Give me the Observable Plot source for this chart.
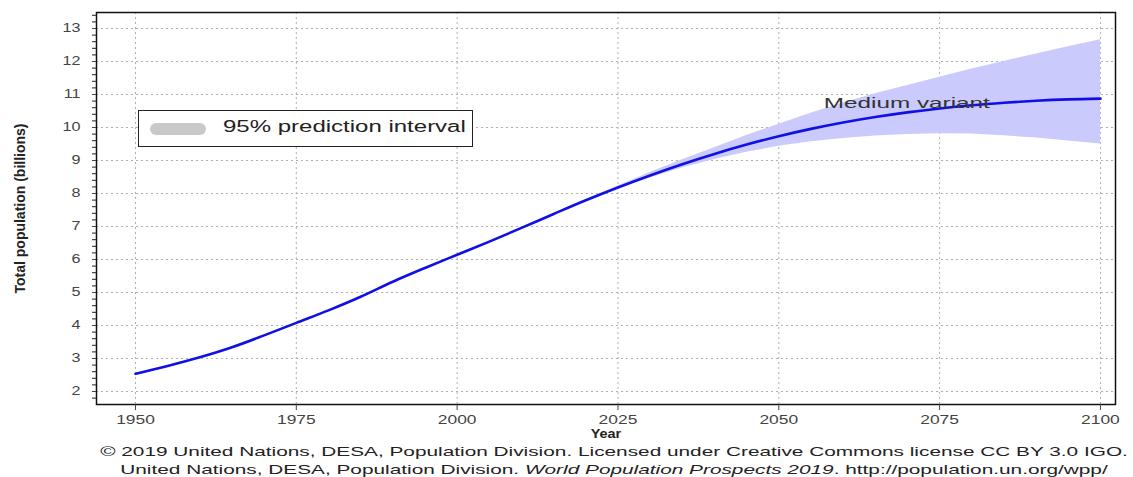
<!DOCTYPE html>
<html><head><meta charset="utf-8">
<script src="https://cdn.jsdelivr.net/npm/d3@7"></script>
<script src="https://cdn.jsdelivr.net/npm/@observablehq/plot@0.6"></script>
<style>
body{margin:0;background:#fff;font-family:"Liberation Sans",Arial,sans-serif;}
#wrap{position:relative;width:1133px;}
#legend{position:absolute;left:138px;top:110px;width:335px;height:37px;border:1.5px solid #222;background:#fff;box-sizing:border-box;}
#legend .sw{position:absolute;left:11px;top:12px;width:56px;height:12px;border-radius:6px;background:#c9c9c9;}
#legend .tx{position:absolute;left:84px;top:7px;font-size:16px;color:#222;transform:scaleX(1.5);transform-origin:0 0;white-space:nowrap;}
#caption{position:relative;height:40px;font-size:13px;color:#222;}
#caption div{position:absolute;left:614px;white-space:nowrap;transform:translateX(-50%) scaleX(1.6);}
</style></head>
<body><div id="wrap"><div id="chart"></div>
<div id="legend"><div class="sw"></div><div class="tx">95% prediction interval</div></div>
<div id="caption"><div style="top:0px">© 2019 United Nations, DESA, Population Division. Licensed under Creative Commons license CC BY 3.0 IGO.</div><div style="top:18px">United Nations, DESA, Population Division. <i>World Population Prospects 2019</i>. http://population.un.org/wpp/</div></div>
</div>
<script>
const years = [1950,1955,1960,1965,1970,1975,1980,1985,1990,1995,2000,2005,2010,2015,2020,2025,2030,2035,2040,2045,2050,2055,2060,2065,2070,2075,2080,2085,2090,2095,2100];
const medium = [2.536,2.773,3.035,3.340,3.700,4.079,4.458,4.871,5.327,5.744,6.143,6.542,6.957,7.380,7.795,8.184,8.548,8.888,9.199,9.482,9.735,9.958,10.152,10.318,10.459,10.577,10.674,10.750,10.810,10.852,10.875];
const bandYears = [2020,2025,2030,2035,2040,2045,2050,2055,2060,2065,2070,2075,2080,2085,2090,2095,2100];
const lower = [7.79,8.14,8.47,8.77,9.03,9.25,9.43,9.57,9.67,9.74,9.79,9.81,9.80,9.75,9.68,9.59,9.50];
const upper = [7.80,8.23,8.64,9.02,9.39,9.76,10.10,10.43,10.74,11.02,11.27,11.52,11.77,12.00,12.23,12.45,12.66];
const xTicks = [1950,1975,2000,2025,2050,2075,2100];
const yTicks = [2,3,4,5,6,7,8,9,10,11,12,13];
const labelText = "Medium variant";

const line = years.map((y,i)=>({year:y,value:medium[i]}));
const band = bandYears.map((y,i)=>({year:y,lo:lower[i],hi:upper[i]}));
const minorY = d3.range(1.8,13.41,0.2);

const plot = Plot.plot({
  width:1133, height:444,
  marginLeft:96, marginRight:18, marginTop:12, marginBottom:40,
  style:{fontFamily:"'Liberation Sans',Arial,sans-serif", fontSize:"12px", color:"#444", background:"#fff"},
  x:{domain:[1943.94,2102.34]},
  y:{domain:[1.606,13.485]},
  marks:[
    Plot.gridX(xTicks,{stroke:"#b0b0b0",strokeOpacity:1,strokeDasharray:"2,3"}),
    Plot.gridY(yTicks,{stroke:"#b0b0b0",strokeOpacity:1,strokeDasharray:"2,3"}),
    Plot.areaY(band,{x:"year",y1:"lo",y2:"hi",fill:"#cacafc",fillOpacity:1}),
    Plot.line(line,{x:"year",y:"value",stroke:"#1010e6",strokeWidth:2.6,curve:"monotone-x"}),
    Plot.text([{year:2057,value:10.74}],{x:"year",y:"value",text:()=>labelText,textAnchor:"start",fontSize:15,fill:"#333",className:"mvlabel"}),
    Plot.frame({stroke:"#111",strokeWidth:1.5}),
    Plot.axisX(xTicks,{tickSize:6,tickPadding:5,tickFormat:d=>String(d),label:null,fontSize:12,className:"xax"}),
    Plot.axisY(minorY,{tickSize:4,tickFormat:()=>"",label:null,stroke:"#222"}),
    Plot.axisY(yTicks,{tickSize:4,tickPadding:12,label:null,fontSize:12,className:"yax"}),
    Plot.text(["Year"],{frameAnchor:"bottom",dy:33,fontWeight:"bold",fontSize:12,fill:"#222",className:"ylab"}),
    Plot.text(["Total population (billions)"],{frameAnchor:"left",textAnchor:"middle",dx:-76,rotate:-90,fontWeight:"bold",fontSize:14,fill:"#222",fontFamily:"'Liberation Sans Narrow','Arial Narrow',sans-serif"})
  ]
});
plot.querySelectorAll(".mvlabel text").forEach(t=>{t.setAttribute("textLength","166");t.setAttribute("lengthAdjust","spacingAndGlyphs");});
document.getElementById("chart").appendChild(plot);
function stretch(sel,k){plot.querySelectorAll(sel).forEach(t=>{const w=t.getComputedTextLength();t.setAttribute("textLength",(w*k).toFixed(1));t.setAttribute("lengthAdjust","spacingAndGlyphs");});}
stretch(".xax text",1.45);
stretch(".yax text",1.35);
stretch(".ylab text",1.2);
</script></body></html>
